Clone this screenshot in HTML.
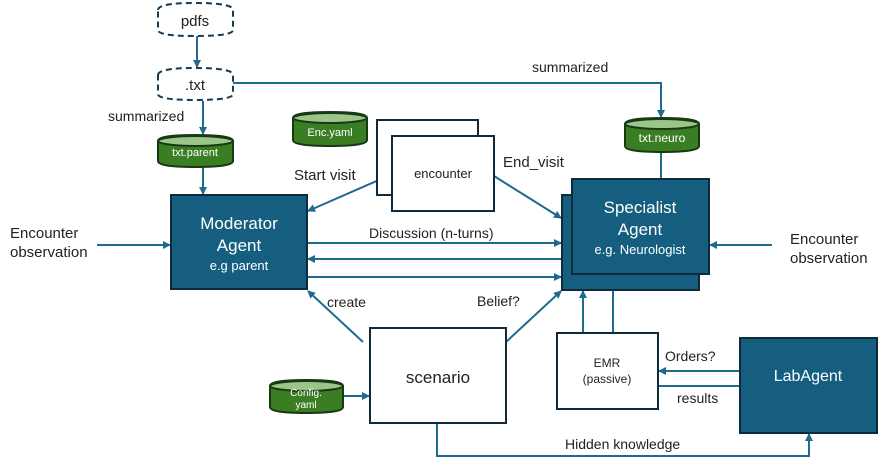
<!DOCTYPE html>
<html><head><meta charset="utf-8"><style>
body{margin:0;background:#fff}
svg{display:block}
text{font-family:"Liberation Sans",sans-serif}
</style></head><body>
<svg width="881" height="464" viewBox="0 0 881 464" xmlns="http://www.w3.org/2000/svg">
<defs>
<marker id="a" markerWidth="8" markerHeight="8" refX="7" refY="4" orient="auto" markerUnits="userSpaceOnUse">
<path d="M0,0 L8,4 L0,8 Z" fill="#1f6b8c"/></marker>
</defs>
<g stroke="#1f6b8c" stroke-width="2" fill="none">
<line x1="197" y1="35" x2="197" y2="67" marker-end="url(#a)"/>
<line x1="203" y1="101" x2="203" y2="134" marker-end="url(#a)"/>
<line x1="203" y1="167" x2="203" y2="194" marker-end="url(#a)"/>
<polyline points="233,83 661,83 661,117" marker-end="url(#a)"/>
<line x1="661" y1="152" x2="661" y2="179"/>
<line x1="97" y1="245" x2="170" y2="245" marker-end="url(#a)"/>
<line x1="772" y1="245" x2="710" y2="245" marker-end="url(#a)"/>
<line x1="307" y1="243" x2="561" y2="243" marker-end="url(#a)"/>
<line x1="562" y1="259" x2="308" y2="259" marker-end="url(#a)"/>
<line x1="307" y1="277" x2="561" y2="277" marker-end="url(#a)"/>
<line x1="388" y1="176" x2="308" y2="211" marker-end="url(#a)"/>
<line x1="494" y1="176" x2="561" y2="218" marker-end="url(#a)"/>
<line x1="363" y1="342" x2="308" y2="291" marker-end="url(#a)"/>
<line x1="506" y1="342" x2="561" y2="291" marker-end="url(#a)"/>
<line x1="343" y1="396" x2="369" y2="396" marker-end="url(#a)"/>
<polyline points="437,423 437,456 809,456 809,434" marker-end="url(#a)"/>
<line x1="583" y1="333" x2="583" y2="291" marker-end="url(#a)"/>
<line x1="613" y1="333" x2="613" y2="290"/>
<line x1="740" y1="371" x2="659" y2="371" marker-end="url(#a)"/>
<line x1="658" y1="386" x2="740" y2="386"/>
</g>
<g stroke="#1a3a50" stroke-width="2" stroke-dasharray="6,4" fill="#fff">
<path d="M158,10 Q158,3 195,3 Q233,3 233,10 L233,30 Q233,36 195,36 Q158,36 158,30 Z"/>
<path d="M158,75 Q158,68 195,68 Q233,68 233,75 L233,94 Q233,100 195,100 Q158,100 158,94 Z"/>
</g>
<g stroke="#173a14" stroke-width="2">
<path d="M158,141 Q158,135 195,135 Q233,135 233,141 L233,161 Q233,167 195,167 Q158,167 158,161 Z" fill="#3a7d22"/>
<ellipse cx="195.5" cy="141" rx="37.5" ry="5" fill="#9cc58a"/>
<path d="M293,118 Q293,112 330,112 Q367,112 367,118 L367,140 Q367,146 330,146 Q293,146 293,140 Z" fill="#3a7d22"/>
<ellipse cx="330" cy="118" rx="37" ry="5" fill="#9cc58a"/>
<path d="M625,124 Q625,118 662,118 Q699,118 699,124 L699,146 Q699,152 662,152 Q625,152 625,146 Z" fill="#3a7d22"/>
<ellipse cx="662" cy="124" rx="37" ry="5" fill="#9cc58a"/>
<path d="M270,386 Q270,380 306,380 Q343,380 343,386 L343,407 Q343,413 306,413 Q270,413 270,407 Z" fill="#3a7d22"/>
<ellipse cx="306.5" cy="386" rx="36.5" ry="5" fill="#9cc58a"/>
</g>
<g stroke="#0f2a3a" stroke-width="2">
<rect x="377" y="120" width="101" height="75" fill="#fff"/>
<rect x="392" y="136" width="102" height="75" fill="#fff"/>
<rect x="171" y="195" width="136" height="94" fill="#155e80"/>
<rect x="562" y="195" width="137" height="95" fill="#155e80"/>
<rect x="572" y="179" width="137" height="95" fill="#155e80"/>
<rect x="370" y="328" width="136" height="95" fill="#fff"/>
<rect x="557" y="333" width="101" height="76" fill="#fff"/>
<rect x="740" y="338" width="137" height="95" fill="#155e80"/>
</g>
<g font-size="14" fill="#222">
<text x="195" y="26" text-anchor="middle" font-size="15">pdfs</text>
<text x="195" y="90" text-anchor="middle" font-size="15">.txt</text>
<text x="108" y="121">summarized</text>
<text x="532" y="72">summarized</text>
<text x="294" y="180" font-size="15">Start visit</text>
<text x="503" y="167" font-size="15">End_visit</text>
<text x="443" y="178" text-anchor="middle" font-size="13">encounter</text>
<text x="10" y="238" font-size="15">Encounter</text>
<text x="10" y="257" font-size="15">observation</text>
<text x="790" y="244" font-size="15">Encounter</text>
<text x="790" y="263" font-size="15">observation</text>
<text x="369" y="238">Discussion (n-turns)</text>
<text x="327" y="307">create</text>
<text x="477" y="306">Belief?</text>
<text x="438" y="383" text-anchor="middle" font-size="17">scenario</text>
<text x="607" y="367" text-anchor="middle" font-size="12">EMR</text>
<text x="607" y="383" text-anchor="middle" font-size="12">(passive)</text>
<text x="665" y="361">Orders?</text>
<text x="677" y="403">results</text>
<text x="565" y="449">Hidden knowledge</text>
</g>
<g fill="#fff" text-anchor="middle">
<text x="195" y="156" font-size="11">txt.parent</text>
<text x="330" y="136" font-size="11">Enc.yaml</text>
<text x="662" y="142" font-size="12">txt.neuro</text>
<text x="306" y="396" font-size="10">Config.</text>
<text x="306" y="408" font-size="10">yaml</text>
<text x="239" y="229" font-size="17">Moderator</text>
<text x="239" y="251" font-size="17">Agent</text>
<text x="239" y="270" font-size="13">e.g parent</text>
<text x="640" y="213" font-size="17">Specialist</text>
<text x="640" y="235" font-size="17">Agent</text>
<text x="640" y="254" font-size="13">e.g. Neurologist</text>
<text x="808" y="381" font-size="16">LabAgent</text>
</g>
</svg>
</body></html>
